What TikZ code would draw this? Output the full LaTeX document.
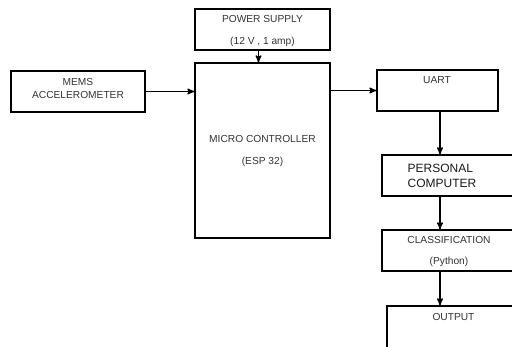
\documentclass[tikz,border=0pt]{standalone}
\usepackage{fontspec}
\setmainfont{Liberation Sans}
\usetikzlibrary{arrows,positioning,calc}

\begin{document}
\begin{tikzpicture}[x=1pt, y=-1pt, >=stealth', semithick,
    block/.style={draw, line width=1.4pt, inner sep=0pt},
    txt/.style={text=black!80, font=\fontsize{10.2}{12}\selectfont, align=center, inner sep=0pt},
    link/.style={->, line width=1.4pt}]
    \useasboundingbox (0,0) rectangle (512,347);
    \clip (0,0) rectangle (512,347);

    % blocks
    \node[block, minimum width=135pt, minimum height=41pt] (Power) at (262.5,29.5) {};
    \node[block, minimum width=135pt, minimum height=175pt] (Mcu) at (262.5,150.5) {};
    \node[block, minimum width=134pt, minimum height=41pt] (Mems) at (78,91.5) {};
    \node[block, minimum width=121pt, minimum height=41pt] (Uart) at (437.5,90.5) {};
    \node[block, minimum width=148pt, minimum height=41pt] (Pc) at (456,175.5) {};
    \node[block, minimum width=148pt, minimum height=41pt] (Cls) at (456,250.5) {};
    \node[block, minimum width=143pt, minimum height=54pt] (Out) at (458.5,333) {};

    % texts
    \node[txt] (PowerA) at (262.5,19) {POWER SUPPLY};
    \node[txt] (PowerB) at (262.5,42) {(12 V , 1 amp)};
    \node[txt] (McuA) at (262.5,139) {MICRO CONTROLLER};
    \node[txt] (McuB) at (262.5,162) {(ESP 32)};
    \node[txt] (MemsT) at (78,88) {MEMS\\[1pt]ACCELEROMETER};
    \node[txt] (UartT) at (437,80.5) {UART};
    \node[txt, text=black!90, font=\fontsize{12}{14.5}\selectfont, align=left] (PcT) at (442,176) {PERSONAL\\COMPUTER};
    \node[txt] (ClsA) at (449,240) {CLASSIFICATION};
    \node[txt] (ClsB) at (449,262) {(Python)};
    \node[txt] (OutT) at (453.5,316.5) {OUTPUT};

    % connectors
    \coordinate (Drop) at (440,0);
    \draw[link] ([xshift=-4pt]Power.south) -- ([xshift=-4pt]Mcu.north);
    \draw[link] (Mems.east) -- (Mcu.west |- Mems.east);
    \draw[link] (Mcu.east |- Uart.west) -- (Uart.west);
    \draw[link] (Drop |- Uart.south) -- (Drop |- Pc.north);
    \draw[link] (Drop |- Pc.south) -- (Drop |- Cls.north);
    \draw[link] (Drop |- Cls.south) -- (Drop |- Out.north);
\end{tikzpicture}
\end{document}
